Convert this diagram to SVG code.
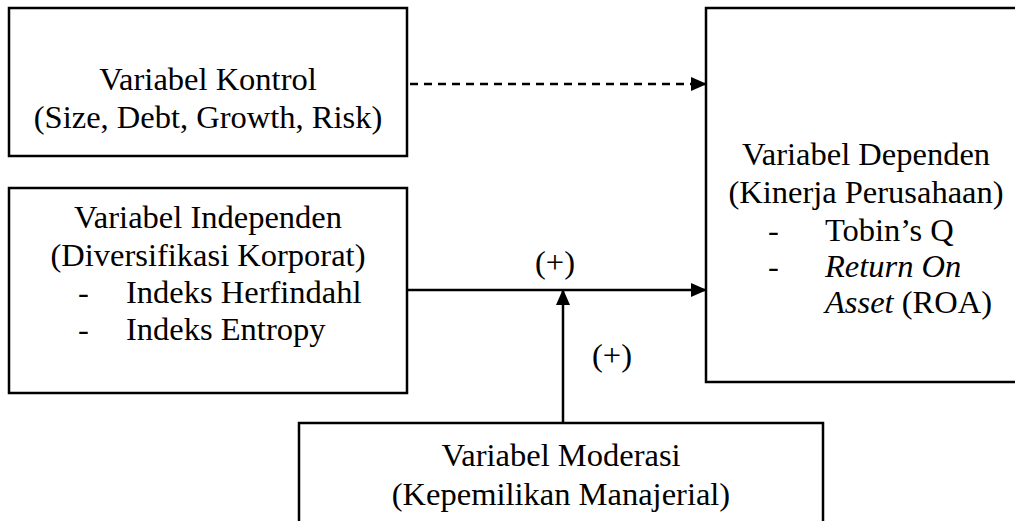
<svg xmlns="http://www.w3.org/2000/svg" width="1015" height="521" viewBox="0 0 1015 521">
<style>
.box{fill:#fff;stroke:#000;stroke-width:2.5}
.t{font-family:"Liberation Serif","Times New Roman",serif;font-size:32.5px;fill:#000}
.c{text-anchor:middle}
.ln{stroke:#000;stroke-width:2.5;fill:none}
</style>
<defs>
<marker id="ah" markerWidth="16" markerHeight="14" refX="15" refY="7" orient="auto" markerUnits="userSpaceOnUse">
<path d="M0,0 L16,7 L0,14 Z" fill="#000"/>
</marker>
</defs>
<rect width="1015" height="521" fill="#fff"/>
<g id="kontrol">
<rect class="box" x="9" y="8" width="398" height="148"/>
<text class="t c" x="208" y="90">Variabel Kontrol</text>
<text class="t c" x="208" y="128">(Size, Debt, Growth, Risk)</text>
</g>
<g id="independen">
<rect class="box" x="9" y="188" width="398" height="205"/>
<text class="t c" x="208" y="228">Variabel Independen</text>
<text class="t c" x="208" y="266">(Diversifikasi Korporat)</text>
<text class="t" x="78" y="303">-</text>
<text class="t" x="126" y="303">Indeks Herfindahl</text>
<text class="t" x="78" y="340">-</text>
<text class="t" x="126" y="340">Indeks Entropy</text>
</g>
<g id="dependen">
<rect class="box" x="706" y="8" width="320" height="374"/>
<text class="t c" x="866" y="165">Variabel Dependen</text>
<text class="t c" x="866" y="203">(Kinerja Perusahaan)</text>
<text class="t" x="768" y="241">-</text>
<text class="t" x="825" y="241">Tobin’s Q</text>
<text class="t" x="768" y="277">-</text>
<text class="t" x="825" y="277" font-style="italic">Return On</text>
<text class="t" x="825" y="313"><tspan font-style="italic">Asset</tspan> (ROA)</text>
</g>
<g id="moderasi">
<rect class="box" x="299" y="423" width="524" height="120"/>
<text class="t c" x="561" y="466">Variabel Moderasi</text>
<text class="t c" x="561" y="505">(Kepemilikan Manajerial)</text>
</g>
<g id="connectors">
<line class="ln" x1="410" y1="84" x2="706" y2="84" stroke-dasharray="8,6" marker-end="url(#ah)"/>
<line class="ln" x1="407" y1="290" x2="706" y2="290" marker-end="url(#ah)"/>
<line class="ln" x1="563" y1="423" x2="563" y2="290" marker-end="url(#ah)"/>
<text class="t c" x="555" y="273">(+)</text>
<text class="t c" x="612" y="366">(+)</text>
</g>
</svg>
